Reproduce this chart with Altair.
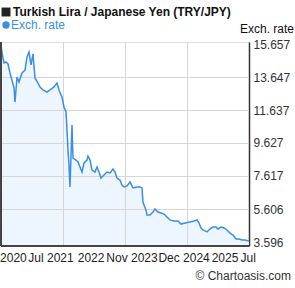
import altair as alt
import pandas as pd

# month offsets from Jul 2020 (0) to Jul 2025 (60)
months = [0, 0.24, 0.73, 1.21, 1.69, 2.18, 2.66, 3.15, 3.39, 3.87, 4.35, 5.08, 5.81, 6.29, 6.77,
          7.26, 7.74, 8.23, 8.95, 9.44, 10.16, 11.13, 11.85, 12.82, 13.55, 14.03, 14.76, 15.24,
          15.73, 15.97, 16.21, 16.45, 16.69, 17.18, 17.42, 18.15, 18.63, 19.11, 19.6, 20.08,
          20.81, 21.05, 21.53, 22.02, 22.74, 23.23, 23.71, 24.19, 24.92, 25.65, 26.37, 27.1,
          27.58, 28.06, 28.79, 29.27, 29.76, 30.48, 31.21, 31.94, 32.9, 33.63, 34.11, 34.35,
          34.6, 35.08, 35.32, 36.05, 36.77, 37.26, 37.98, 38.71, 39.44, 40.16, 40.89, 41.85,
          42.82, 43.55, 44.52, 45.73, 46.69, 47.42, 47.9, 48.39, 48.87, 49.84, 50.56, 51.29,
          52.02, 52.5, 53.23, 53.95, 54.68, 55.4, 56.13, 56.85, 57.58, 58.31, 59.03, 60]
rates = [15.66, 15.11, 14.50, 14.56, 14.44, 13.89, 13.46, 12.98, 12.12, 13.65, 13.34, 13.89,
         14.07, 14.87, 15.17, 14.38, 15.05, 13.59, 13.28, 13.04, 12.86, 12.73, 12.86, 13.04,
         13.28, 12.86, 12.43, 11.82, 11.52, 10.42, 9.20, 8.29, 6.95, 10.72, 8.71, 8.59, 8.47,
         8.16, 7.86, 8.41, 8.59, 8.83, 8.59, 7.98, 7.86, 8.16, 7.86, 7.49, 7.68, 7.86, 7.80,
         8.04, 7.86, 7.49, 7.37, 7.07, 6.95, 7.01, 7.25, 6.89, 6.95, 6.95, 6.89, 6.03, 5.85,
         5.55, 5.24, 5.24, 5.42, 5.61, 5.42, 5.36, 5.30, 5.12, 4.94, 4.88, 4.88, 4.69, 4.75,
         4.81, 4.88, 4.94, 4.75, 4.45, 4.33, 4.21, 4.39, 4.51, 4.51, 4.39, 4.51, 4.45, 4.33,
         4.14, 4.02, 3.78, 3.78, 3.72, 3.72, 3.66]

y_ticks = [15.657, 13.647, 11.637, 9.627, 7.617, 5.606, 3.596]
x_label_pos = [3.0, 12.1, 21.8, 31.7, 44.3, 54.2, 59.8]
x_label_text = ["2020", "Jul 2021", "2022", "Nov 2023", "Dec 2024", "2025", "Jul"]
x_grid = [15, 30, 45]

title_text = "Turkish Lira / Japanese Yen (TRY/JPY)"
legend_text = "Exch. rate"
axis_title = "Exch. rate"
credit = "© Chartoasis.com"

Y_MIN, Y_MAX = 3.353, 15.779
W, H = 248, 204
LINE = "#3a8ee6"
GRID = "#d6d6d6"
FONT = "Liberation Sans"

df = pd.DataFrame({"m": months, "rate": rates})
xs = alt.Scale(domain=[0, 60], nice=False, zero=False)
ys = alt.Scale(domain=[Y_MIN, Y_MAX], nice=False, zero=False)
y_axis = alt.Axis(orient="right", values=y_ticks, format=".3f", title=None,
                  grid=False, ticks=False, labelPadding=4, labelFontSize=12,
                  labelFont=FONT, labelColor="#333", domainColor="#333",
                  domainWidth=1.5, labelOverlap=False, labelBound=False,
                  labelFlush=False)

base = alt.Chart(df)

area = base.mark_area(color="#edf6fe").encode(
    x=alt.X("m:Q", scale=xs, axis=None),
    y=alt.Y("rate:Q", scale=ys, axis=y_axis),
    y2=alt.datum(Y_MIN),
)

ygrid = alt.Chart(pd.DataFrame({"rate": y_ticks[1:-1]})).mark_rule(
    color=GRID, strokeWidth=1, opacity=1, yOffset=0.5).encode(
    y=alt.Y("rate:Q", scale=ys, axis=y_axis), x=alt.value(0), x2=alt.value(W))
xgrid = alt.Chart(pd.DataFrame({"m": x_grid})).mark_rule(
    color=GRID, strokeWidth=1, opacity=1, xOffset=0.5).encode(
    x=alt.X("m:Q", scale=xs, axis=None), y=alt.value(0), y2=alt.value(H))

line = base.mark_line(color=LINE, strokeWidth=1.5).encode(
    x=alt.X("m:Q", scale=xs, axis=None), y=alt.Y("rate:Q", scale=ys, axis=y_axis))

left_border = alt.Chart(df).mark_rule(color="#444", strokeWidth=1.5).encode(
    x=alt.value(0), y=alt.value(0), y2=alt.value(H))
bottom_border = alt.Chart(df).mark_rule(color="#444", strokeWidth=1.5).encode(
    x=alt.value(0), x2=alt.value(W), y=alt.value(H))

xlabels = alt.Chart(pd.DataFrame({"m": x_label_pos, "t": x_label_text})).mark_text(
    font=FONT, fontSize=12, color="#222", baseline="middle", align="center").encode(
    x=alt.X("m:Q", scale=xs, axis=None), y=alt.value(H + 12), text="t:N")

tdf = pd.DataFrame({"a": [0]})
title_sq = alt.Chart(tdf).mark_square(color="#222", size=80, opacity=1, filled=True).encode(
    x=alt.value(5), y=alt.value(-30))
title = alt.Chart(tdf).mark_text(font=FONT, fontSize=12, fontWeight="bold", color="#111",
                                 align="left", baseline="middle").encode(
    x=alt.value(12), y=alt.value(-30), text=alt.value(title_text))
leg_dot = alt.Chart(tdf).mark_circle(color=LINE, size=55, opacity=1).encode(
    x=alt.value(5), y=alt.value(-17))
leg = alt.Chart(tdf).mark_text(font=FONT, fontSize=12, color=LINE, align="left",
                               baseline="middle").encode(
    x=alt.value(10), y=alt.value(-17), text=alt.value(legend_text))
ytitle = alt.Chart(tdf).mark_text(font=FONT, fontSize=12, color="#111", align="left",
                                  baseline="middle").encode(
    x=alt.value(239), y=alt.value(-13), text=alt.value(axis_title))
cred = alt.Chart(tdf).mark_text(font=FONT, fontSize=12, color="#333", align="right",
                                baseline="middle").encode(
    x=alt.value(290), y=alt.value(H + 30), text=alt.value(credit))

chart = alt.layer(area, ygrid, xgrid, line, left_border, bottom_border, xlabels,
                  title_sq, title, leg_dot, leg, ytitle, cred).properties(
    width=W, height=H,
    autosize=alt.AutoSizeParams(type="none"),
    padding={"left": 1, "top": 42, "right": 46, "bottom": 42},
).configure_view(stroke=None).configure(background="white").configure_axis(
    labelOverlap=False)

chart.save("out.html", embed_options={"renderer": "svg", "actions": False})
